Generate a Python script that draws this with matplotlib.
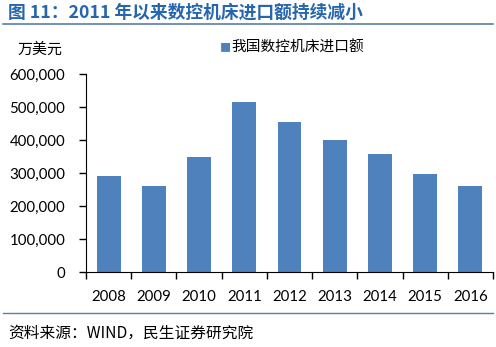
import matplotlib.pyplot as plt
from matplotlib.lines import Line2D

plt.rcParams['font.family'] = ['Noto Sans CJK SC', 'DejaVu Sans']

years = ['2008', '2009', '2010', '2011', '2012', '2013', '2014', '2015', '2016']
imports = [292700, 262400, 348500, 515000, 456000, 400900, 358500, 298800, 260500]
yticks = [0, 100000, 200000, 300000, 400000, 500000, 600000]

bar_color = '#4F81BD'
title_color = '#2566AE'

fig = plt.figure(figsize=(4.96, 3.47), dpi=100)
ax = fig.add_axes([0.1734, 0.2153, 0.8206, 0.5706])

ax.bar(range(len(years)), imports, width=0.53, color=bar_color)
ax.set_xlim(-0.5, len(years) - 0.5)
ax.set_ylim(0, 600000)
ax.set_yticks(yticks)
ax.set_yticklabels([f'{v:,}' for v in yticks], family='Lato', fontsize=10.8)
ax.set_xticks(range(len(years)))
ax.set_xticklabels(years, family='Lato', fontsize=10.8)
ax.tick_params(axis='x', length=0, pad=13)
ax.tick_params(axis='y', length=5, width=1, direction='out', pad=10)
# category separator ticks on the x axis
ax.set_xticks([i - 0.5 for i in range(len(years) + 1)], minor=True)
ax.tick_params(axis='x', which='minor', length=5, width=1, direction='out')
for s in ['top', 'right']:
    ax.spines[s].set_visible(False)
ax.spines['left'].set_color('black')
ax.spines['bottom'].set_color('black')

# title and rules
fig.text(0.016, 0.965, '图 11：2011 年以来数控机床进口额持续减小', color=title_color,
         fontsize=12.8, fontweight='bold', va='center', ha='left')
fig.add_artist(Line2D([0.006, 0.994], [0.931, 0.931], color='#5B7FA6', lw=1.2))
fig.add_artist(Line2D([0.006, 0.994], [0.098, 0.098], color='#5B7FA6', lw=1.0))

# unit label and legend
fig.text(0.036, 0.856, '万美元', fontsize=10.8, va='center', ha='left')
fig.text(0.4435, 0.862, '■', color=bar_color, fontsize=8, va='center', ha='left')
fig.text(0.467, 0.862, '我国数控机床进口额', fontsize=10.6, va='center', ha='left')

fig.text(0.016, 0.040, '资料来源：WIND，民生证券研究院', fontsize=11.3, va='center', ha='left')

plt.savefig('out.png', dpi=100)
